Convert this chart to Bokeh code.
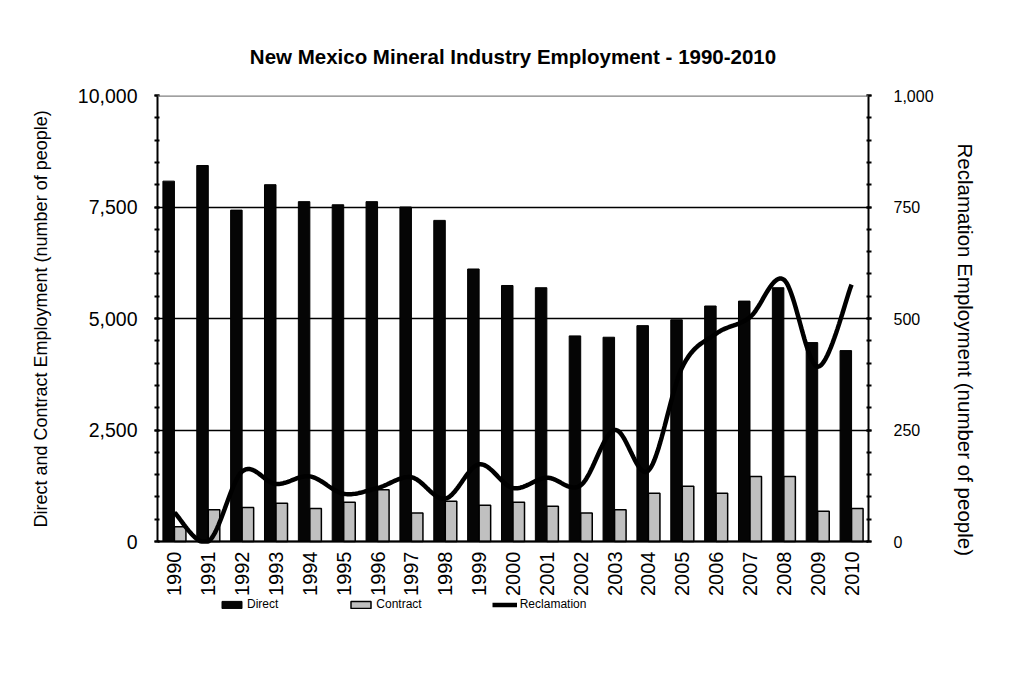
import numpy as np
from bokeh.plotting import figure
from bokeh.models import (Range1d, LinearAxis, SingleIntervalTicker, FixedTicker, Legend,
                          LegendItem, Span, NumeralTickFormatter, ColumnDataSource, Title)
from bokeh.transform import dodge
from bokeh.embed import file_html
from bokeh.resources import INLINE

# ---- data ----
years = [str(y) for y in range(1990, 2011)]
direct = [8080, 8430, 7430, 8000, 7620, 7550, 7620, 7500, 7200, 6110, 5740,
          5690, 4610, 4580, 4840, 4970, 5280, 5390, 5690, 4460, 4280]
contract = [330, 710, 760, 860, 740, 880, 1160, 640, 900, 810, 880,
            790, 640, 710, 1080, 1240, 1080, 1460, 1460, 680, 740]
reclamation = [65, 0, 157, 129, 146, 107, 120, 144, 96, 173, 120,
               143, 126, 250, 159, 391, 466, 503, 587, 392, 576]

title_text = "New Mexico Mineral Industry Employment - 1990-2010"
left_label = "Direct and Contract Employment (number of people)"
right_label = "Reclamation Employment (number of people)"
left_max = 10000
right_max = 1000

FONT = "Liberation Sans"

# layout: the value area (0..max) is PLOT_H px tall; the frame extends below it
# so that the x labels and the legend can live inside it.
PLOT_H = 446
FRAME_H = 540
ext = FRAME_H / PLOT_H

# ---- smoothed line (Excel-like Catmull-Rom bezier through the data points) ----
def smooth(xs, ys, n=24):
    P = np.column_stack([xs, ys]).astype(float)
    P = np.vstack([P[0], P, P[-1]])
    out_x, out_y = [], []
    t = np.linspace(0, 1, n)
    for i in range(1, len(P) - 2):
        p0, p1, p2, p3 = P[i - 1], P[i], P[i + 1], P[i + 2]
        c1 = p1 + (p2 - p0) / 6.0
        c2 = p2 - (p3 - p1) / 6.0
        for tt in t:
            b = ((1 - tt) ** 3) * p1 + 3 * ((1 - tt) ** 2) * tt * c1 + 3 * (1 - tt) * tt ** 2 * c2 + tt ** 3 * p2
            out_x.append(b[0])
            out_y.append(b[1])
    return out_x, out_y

idx = list(range(len(years)))
sx, sy = smooth(idx, reclamation)
sy = list(np.maximum(sy, 0))  # chart area is clipped at the axis

p = figure(frame_width=711, frame_height=FRAME_H,
           x_range=Range1d(-0.5, len(years) - 0.5),
           y_range=Range1d(left_max - left_max * ext, left_max),
           output_backend="svg", toolbar_location=None,
           min_border_left=157, min_border_right=150, min_border_top=95, min_border_bottom=10,
           background_fill_color="white", border_fill_color="white", outline_line_color=None)
p.extra_y_ranges = {"rec": Range1d(right_max - right_max * ext, right_max)}

p.title.text = title_text
p.title.align = "center"
p.title.text_font = FONT
p.title.text_font_size = "20.5px"
p.title.text_font_style = "bold"
p.title.text_color = "black"
p.title.standoff = 56

# grid
p.xgrid.visible = False
p.ygrid.ticker = SingleIntervalTicker(interval=2500)
p.ygrid.bounds = (0, left_max)
p.ygrid.grid_line_color = "black"
p.ygrid.grid_line_width = 1.5
p.add_layout(Span(location=left_max, dimension="width", line_color="#808080", line_width=2.5))

src = ColumnDataSource(dict(x=idx, direct=direct, contract=contract))
r_direct = p.vbar(x=dodge("x", -0.17, range=p.x_range), top="direct", width=0.34, source=src,
                  fill_color="#050505", line_color="black", line_width=1)
r_contract = p.vbar(x=dodge("x", 0.17, range=p.x_range), top="contract", width=0.34, source=src,
                    fill_color="#c0c0c0", line_color="black", line_width=1.5)
r_rec = p.line(sx, sy, y_range_name="rec", line_color="black", line_width=4.5)

def style_axis(ax, size):
    ax.axis_line_color = "black"
    ax.axis_line_width = 2
    ax.major_tick_line_color = "black"
    ax.major_tick_line_width = 2
    ax.minor_tick_line_color = "black"
    ax.minor_tick_line_width = 2
    ax.major_tick_in = 2
    ax.major_tick_out = 3
    ax.minor_tick_in = 2
    ax.minor_tick_out = 3
    ax.major_label_text_font = FONT
    ax.major_label_text_font_size = size
    ax.major_label_text_color = "black"

ly = p.yaxis[0]
ly.ticker = SingleIntervalTicker(interval=2500, num_minor_ticks=5)
ly.formatter = NumeralTickFormatter(format="0,0")
ly.bounds = (0, left_max)
style_axis(ly, "19.5px")
ly.major_label_standoff = 17

ry = LinearAxis(y_range_name="rec", ticker=SingleIntervalTicker(interval=250, num_minor_ticks=5),
                formatter=NumeralTickFormatter(format="0,0"), bounds=(0, right_max))
style_axis(ry, "16px")
ry.major_label_standoff = 22
p.add_layout(ry, "right")

# axis titles (placed as side titles so they sit over the value area)
lt = Title(text=left_label, align="left", offset=108, standoff=48,
           text_font=FONT, text_font_size="18px", text_font_style="normal", text_color="black")
p.add_layout(lt, "left")

rt = Title(text=right_label, align="left", offset=48, standoff=34,
           text_font=FONT, text_font_size="20.5px", text_font_style="normal", text_color="black")
p.add_layout(rt, "right")

xa = p.xaxis[0]
xa.ticker = FixedTicker(ticks=idx)
xa.major_label_overrides = {i: y for i, y in zip(idx, years)}
xa.fixed_location = 0
style_axis(xa, "20px")
xa.major_label_orientation = np.pi / 2
xa.major_tick_in = 0
xa.major_tick_out = 0
xa.minor_tick_in = 0
xa.minor_tick_out = 0
xa.major_label_standoff = 10

legend = Legend(items=[LegendItem(label="Direct", renderers=[r_direct]),
                       LegendItem(label="Contract", renderers=[r_contract]),
                       LegendItem(label="Reclamation", renderers=[r_rec])],
                orientation="horizontal", location=(62, 24),
                glyph_width=25, glyph_height=9, label_standoff=3, spacing=70,
                padding=0, margin=0, border_line_color=None, background_fill_alpha=0,
                label_text_font=FONT, label_text_font_size="12px", label_text_color="black")
p.add_layout(legend, "center")

open("out.html", "w").write(file_html(p, INLINE))
